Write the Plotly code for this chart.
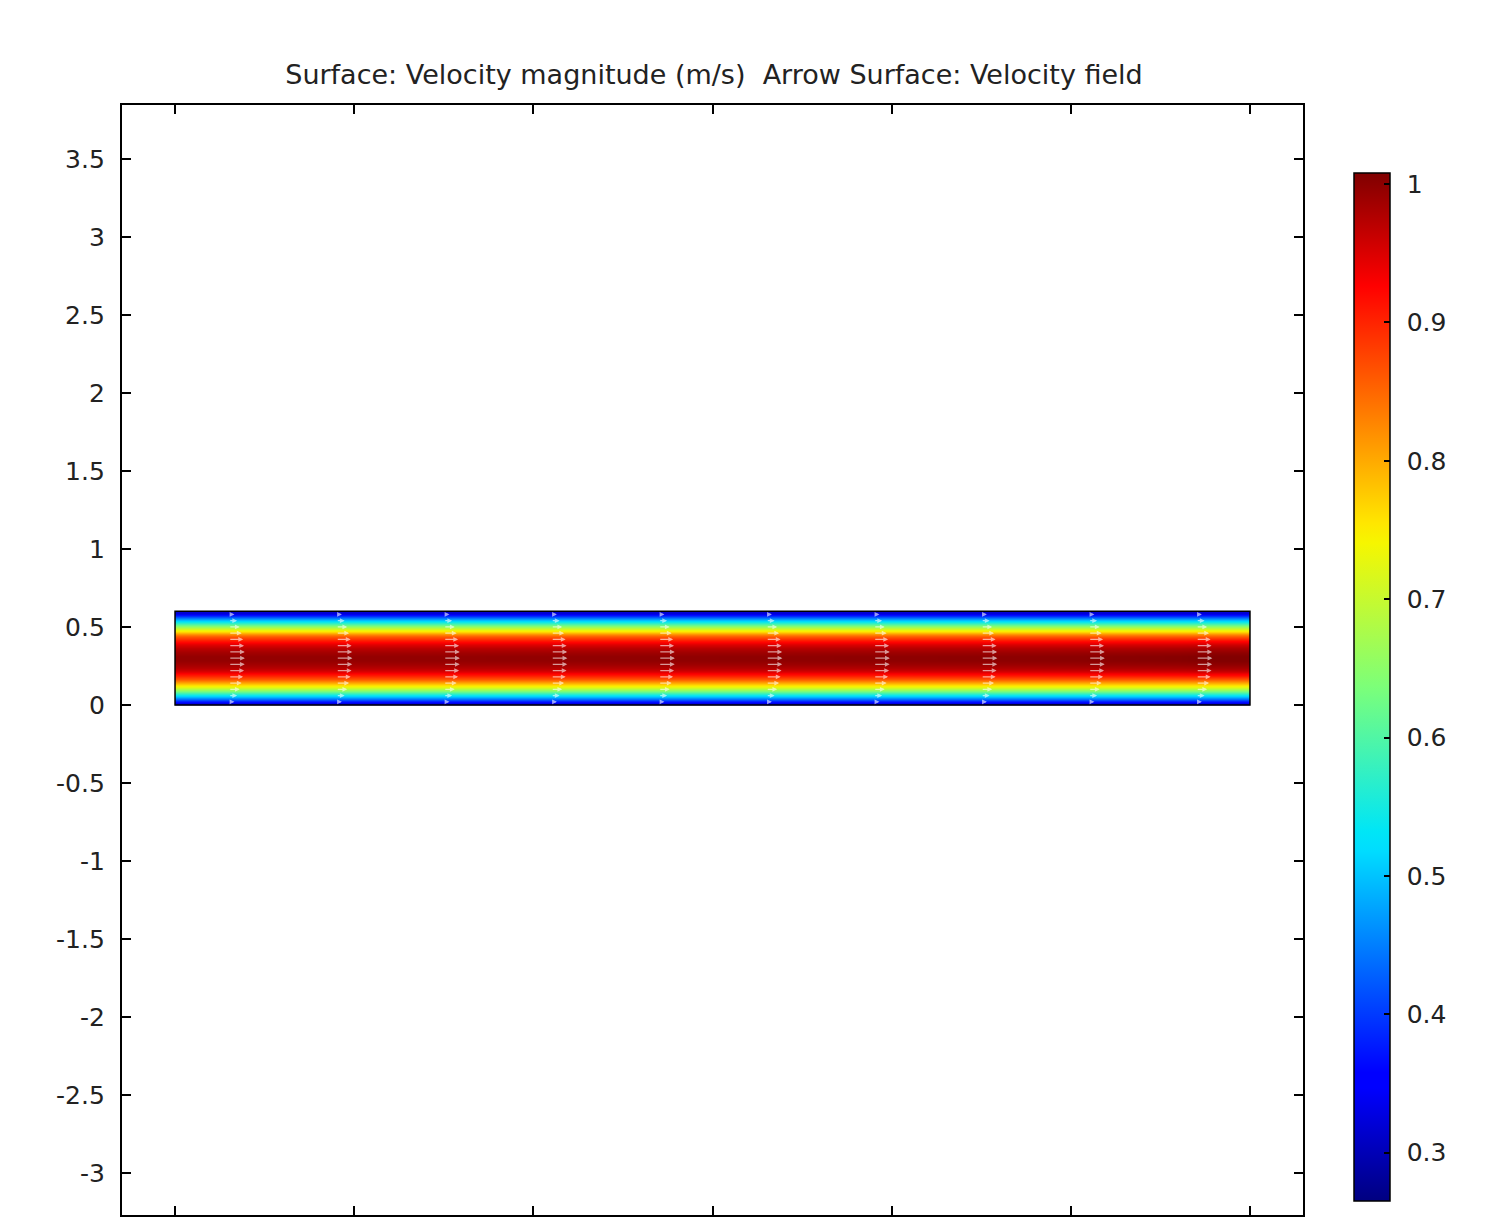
import numpy as np
import plotly.graph_objects as go

# ---- data ----
channel_length = 3.0
channel_height = 0.6

# velocity magnitude across the channel (cell centres from bottom wall to top wall, 24 cells)
half_profile = [0.32, 0.43, 0.53, 0.63, 0.72, 0.79, 0.86, 0.91, 0.95, 0.975, 0.99, 1.0]
profile = half_profile + half_profile[::-1]

# streamwise stations (cell edges) and centreline scaling per station
x_edges = [0.0, 1.0, 2.0, 2.8, 3.0]
x_factor = [0.995, 0.998, 1.0, 1.007]

# arrow field
arrow_x = [0.15, 0.45, 0.75, 1.05, 1.35, 1.65, 1.95, 2.25, 2.55, 2.85]
arrow_y = [0.02, 0.06, 0.10, 0.14, 0.18, 0.22, 0.26, 0.30, 0.34, 0.38, 0.42, 0.46, 0.50, 0.54, 0.58]
arrow_speed = [0.35, 0.52, 0.68, 0.80, 0.89, 0.95, 0.99, 1.0, 0.99, 0.95, 0.89, 0.80, 0.68, 0.52, 0.35]
arrow_scale = 0.045

y_ticks = [-3, -2.5, -2, -1.5, -1, -0.5, 0, 0.5, 1, 1.5, 2, 2.5, 3, 3.5]
y_ticktext = ["-3", "-2.5", "-2", "-1.5", "-1", "-0.5", "0", "0.5", "1", "1.5", "2", "2.5", "3", "3.5"]
x_ticks = [0, 0.5, 1, 1.5, 2, 2.5, 3]
cb_ticks = [0.3, 0.4, 0.5, 0.6, 0.7, 0.8, 0.9, 1.0]
cb_ticktext = ["0.3", "0.4", "0.5", "0.6", "0.7", "0.8", "0.9", "1"]

title_text = "Surface: Velocity magnitude (m/s)  Arrow Surface: Velocity field"

# ---- build ----
y_edges = np.linspace(0, channel_height, len(profile) + 1)
z = [[p * f if p > 0.9 else p for f in x_factor] for p in profile]

jet = [
    [0.0, "rgb(0,0,128)"],
    [0.11, "rgb(0,0,255)"],
    [0.125, "rgb(0,0,255)"],
    [0.34, "rgb(0,220,255)"],
    [0.36, "rgb(0,230,246)"],
    [0.5, "rgb(124,255,121)"],
    [0.64, "rgb(246,246,0)"],
    [0.66, "rgb(255,230,0)"],
    [0.89, "rgb(255,0,0)"],
    [0.91, "rgb(232,0,0)"],
    [1.0, "rgb(128,0,0)"],
]

FONT = "DejaVu Sans"
W, H = 1491, 1209  # page body has an 8 px margin
L, T = 114, 97
R = W - (1303 - 8)
B = H - (1215 - 8)
plot_w = W - L - R
plot_h = H - T - B

pad = "\u00a0\u200a"

fig = go.Figure()
fig.add_trace(go.Heatmap(
    x=x_edges, y=y_edges, z=z,
    zsmooth="best",
    colorscale=jet, zmin=0.265, zmax=1.008,
    colorbar=dict(
        x=(1354 - 122) / plot_w, xanchor="left", xpad=0,
        y=(1215 - 687) / plot_h, yanchor="middle", len=(1201 - 173) / plot_h, lenmode="fraction",
        thickness=36, ypad=0,
        outlinewidth=1.5, outlinecolor="black",
        tickvals=cb_ticks, ticktext=[pad + t for t in cb_ticktext],
        ticks="inside", ticklen=6, tickcolor="black", tickwidth=1.5,
        tickfont=dict(family=FONT, size=25, color="#222"),
    ),
    hoverinfo="skip",
))

annotations = []
for xa in arrow_x:
    for ya, sp in zip(arrow_y, arrow_speed):
        annotations.append(dict(
            x=xa + sp * arrow_scale, y=ya, ax=xa, ay=ya,
            xref="x", yref="y", axref="x", ayref="y",
            showarrow=True, arrowhead=2, arrowsize=0.8, arrowwidth=1.2,
            arrowcolor="rgba(255,255,255,0.6)", text="",
        ))

shapes = [dict(type="rect", xref="x", yref="y", x0=0, x1=channel_length, y0=0, y1=channel_height,
               line=dict(color="black", width=1.5), layer="above")]

axis_common = dict(showline=True, mirror="ticks", linecolor="black", linewidth=1.5,
                   ticks="inside", ticklen=9, tickwidth=1.5, tickcolor="black",
                   showgrid=False, zeroline=False)

fig.update_layout(
    width=W, height=H,
    margin=dict(l=L, r=R, t=T, b=B),
    paper_bgcolor="white", plot_bgcolor="white",
    title=dict(text=title_text, x=(714 - 8) / W, xanchor="center", y=1 - (75 - 8) / H, yanchor="middle",
               font=dict(family=FONT, size=27, color="#222")),
    xaxis=dict(range=[-0.148, 3.148], tickvals=x_ticks, showticklabels=False, **axis_common),
    yaxis=dict(range=[-3.27, 3.846], tickvals=y_ticks, ticktext=[t + pad for t in y_ticktext],
               tickfont=dict(family=FONT, size=25, color="#222"), **axis_common),
    annotations=annotations,
    shapes=shapes,
    showlegend=False,
)

fig.write_html("out.html")
